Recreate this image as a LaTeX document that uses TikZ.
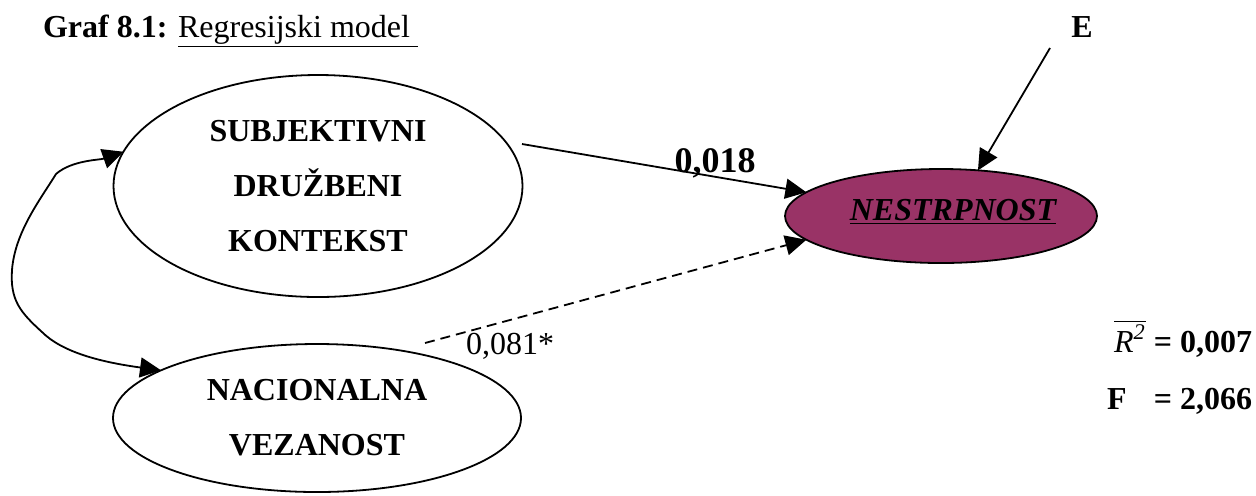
\documentclass[tikz,border=0pt]{standalone}
\usepackage{fontspec}
\setmainfont{Liberation Serif}
\usetikzlibrary{shapes.geometric,arrows.meta}
\definecolor{plum}{HTML}{993366}
\begin{document}
\begin{tikzpicture}[x=0.5pt,y=-0.5pt,
  every node/.style={inner sep=0pt,outer sep=0pt},
  latent/.style={ellipse,draw,line width=0.9pt,align=center,
    font=\fontsize{16}{27.5}\selectfont\bfseries},
  tip/.style={Triangle[length=10.5pt,width=10pt]},
  conn/.style={line width=0.9pt,-{Triangle[length=10.5pt,width=10pt]}},
  txt/.style={font=\fontsize{16}{19}\selectfont}]
\useasboundingbox (0,0) rectangle (1256,495);

% title
\node[txt,anchor=base west] (title) at (43,37)
  {\textbf{Graf 8.1:} \underline{Regresijski model\ }};

% latent variables
\node[latent,minimum width=204.5pt,minimum height=111pt] (s) at (318,186)
  {SUBJEKTIVNI\\DRUŽBENI\\KONTEKST};
\node[latent,minimum width=204pt,minimum height=74pt] (v) at (317,418)
  {NACIONALNA\\VEZANOST};
\node[ellipse,draw,fill=plum,line width=0.9pt,minimum width=156pt,minimum height=47pt] (n) at (941,216) {};
\node[txt,font=\fontsize{16}{19}\selectfont\bfseries\itshape,anchor=base] (nt) at (953,220)
  {\underline{NESTRPNOST}};

% error term
\node[txt,font=\fontsize{16}{19}\selectfont\bfseries,anchor=base] (E) at (1082,37) {E};
\coordinate (e1) at (1050,48);
\draw[conn] (e1) -- (n.51);

% paths
\coordinate (a1) at (522,144);
\draw[conn] (a1) -- (n.170);
\node[font=\fontsize{18}{21}\selectfont\bfseries,anchor=base] (l1) at (715,172) {0,018};

\coordinate (d1) at (425,343);
\draw[conn,dash pattern=on 5pt off 3pt] (d1) -- (n.190);
\node[txt] (l2) at (510,346) {0,081*};

% correlation
\draw[line width=0.9pt,{Triangle[length=10.5pt,width=10pt]}-{Triangle[length=10.5pt,width=10pt]}]
  (v.163) .. controls (100,362) and (62,352) .. (42,332)
  .. controls (20,312) and (10,300) .. (12,270)
  .. controls (15,232) and (40,200) .. (56,174)
  .. controls (72,160) and (100,160) .. (s.170);

% fit statistics
\node[txt,anchor=base east] (r2) at (1252,352)
  {$\overline{\hbox{\itshape R\textsuperscript{2}}}$\textbf{ = 0,007}};
\node[txt,anchor=base east,font=\fontsize{16}{19}\selectfont\bfseries] (F) at (1252,409)
  {F\hspace{13.5pt}= 2,066};
\end{tikzpicture}
\end{document}
